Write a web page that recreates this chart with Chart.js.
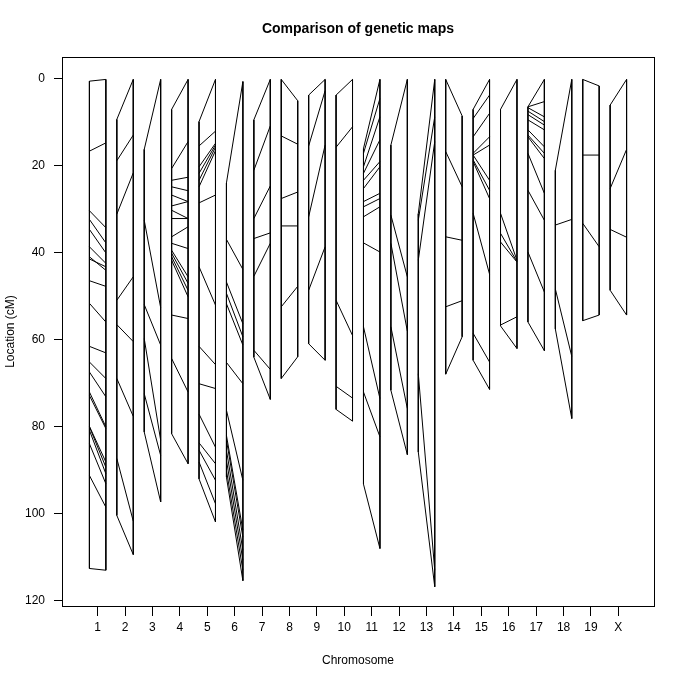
<!DOCTYPE html>
<html>
<head>
<meta charset="utf-8">
<title>Comparison of genetic maps</title>
<script src="https://cdn.jsdelivr.net/npm/chart.js@4"></script>
<style>
    body { margin: 0; background: #fff; }
    canvas { display: block; }
</style>
</head>
<body>
<canvas id="mapChart" width="686" height="682"></canvas>
<script>
    // Chromosome names, one column each on the x axis
    const chromosomes = ['1', '2', '3', '4', '5', '6', '7', '8', '9', '10',
        '11', '12', '13', '14', '15', '16', '17', '18', '19', 'X'];

    // Marker positions (cM) in the first map, one list per chromosome
    const map1Positions = [
        [0.5, 16.6, 30.3, 32.3, 34.6, 38.6, 40.9, 41.4, 46.4, 51.6, 61.5, 65.1, 67.4, 72.0, 72.8, 79.9, 80.0, 80.8, 83.9, 91.2, 112.6],
        [9.3, 18.8, 31.1, 50.9, 56.5, 68.9, 87.3, 100.4],
        [16.2, 32.5, 51.9, 59.7, 72.4, 81.2],
        [7.0, 20.6, 23.3, 24.8, 26.7, 29.2, 30.2, 32.1, 36.3, 37.8, 39.4, 40.1, 40.9, 41.7, 54.3, 64.3, 81.6],
        [9.8, 15.4, 20.2, 21.7, 23.3, 24.8, 28.5, 43.2, 61.5, 70.1, 77.1, 83.7, 85.4, 88.1, 92.0],
        [23.9, 36.9, 46.7, 49.3, 51.7, 65.2, 76.2, 82.0, 83.1, 85.4, 87.7, 90.0, 91.6],
        [9.4, 21.0, 32.1, 36.7, 45.4, 62.4, 64.0],
        [0.1, 13.1, 27.5, 33.8, 52.4, 68.9],
        [3.7, 15.4, 31.7, 48.6, 60.9],
        [3.7, 15.7, 50.9, 70.7, 76.0],
        [16.0, 17.1, 20.2, 21.7, 23.3, 25.2, 28.2, 29.4, 31.7, 37.7, 57.0, 72.0, 93.2],
        [15.2, 31.3, 37.8, 57.0, 71.6],
        [31.0, 32.5, 41.7, 67.8, 85.8],
        [0.1, 16.7, 36.3, 52.4, 67.9],
        [7.0, 9.1, 13.3, 17.1, 17.5, 17.5, 18.6, 19.0, 30.9, 58.5, 64.7],
        [7.0, 30.9, 35.5, 37.5, 56.6, 56.8],
        [6.4, 6.4, 6.6, 7.4, 8.2, 9.4, 11.7, 12.9, 13.3, 17.1, 25.6, 39.8, 55.9],
        [21.0, 33.6, 48.3, 57.5],
        [0.1, 17.5, 33.2, 55.6],
        [6.0, 25.2, 34.6, 48.6]
    ];

    // The same markers in the second map
    const map2Positions = [
        [0.1, 14.7, 34.2, 37.7, 40.0, 42.4, 44.0, 43.2, 47.7, 55.9, 63.0, 68.9, 73.1, 80.0, 80.4, 88.1, 89.3, 90.8, 93.1, 98.5, 113.0],
        [0.1, 12.9, 21.6, 45.5, 60.4, 77.6, 101.7, 109.4],
        [0.1, 52.6, 61.2, 83.1, 86.6, 97.3],
        [0.1, 14.4, 22.6, 25.7, 28.2, 28.2, 32.1, 32.1, 34.0, 39.0, 45.5, 47.0, 48.6, 50.1, 55.1, 72.0, 88.5],
        [0.1, 12.0, 14.8, 15.2, 15.7, 16.5, 26.7, 52.0, 65.7, 71.2, 84.7, 88.5, 92.3, 97.7, 101.9],
        [0.6, 43.8, 56.3, 59.3, 61.2, 70.1, 92.3, 103.8, 105.4, 108.4, 110.7, 113.0, 115.4],
        [0.1, 10.8, 24.6, 35.4, 37.8, 66.8, 73.7],
        [5.0, 15.0, 26.0, 33.8, 47.7, 63.9],
        [0.1, 2.7, 15.2, 38.6, 64.7],
        [0.1, 11.0, 59.0, 73.4, 78.7],
        [0.1, 4.5, 8.7, 14.0, 19.0, 20.2, 26.3, 27.5, 29.4, 39.8, 73.5, 82.3, 108.0],
        [0.1, 45.5, 58.0, 75.8, 86.4],
        [0.1, 8.7, 14.4, 113.0, 116.8],
        [8.5, 24.8, 37.1, 51.0, 59.3],
        [0.1, 3.7, 7.9, 13.3, 15.2, 23.3, 25.6, 27.5, 44.9, 65.1, 71.4],
        [0.1, 41.7, 42.0, 42.1, 54.7, 62.0],
        [0.1, 5.2, 8.7, 9.8, 10.6, 11.7, 15.6, 17.1, 18.3, 26.3, 32.5, 49.0, 62.5],
        [0.1, 32.3, 63.8, 78.1],
        [1.6, 17.5, 38.6, 54.3],
        [0.1, 16.2, 36.4, 54.3]
    ];

    const yTicks = [0, 20, 40, 60, 80, 100, 120];

    const HALF = 0.3; // offset of each map's bar from the chromosome position

    function gap() {
        return { x: null, y: null };
    }

    // Two vertical bars plus one connecting segment per marker
    function chromosomePoints(i) {
        const c = i + 1;
        const m1 = map1Positions[i];
        const m2 = map2Positions[i];
        const pts = [];
        pts.push({ x: c - HALF, y: Math.min(...m1) }, { x: c - HALF, y: Math.max(...m1) }, gap());
        pts.push({ x: c + HALF, y: Math.min(...m2) }, { x: c + HALF, y: Math.max(...m2) }, gap());
        m1.forEach((p, j) => {
            pts.push({ x: c - HALF, y: p }, { x: c + HALF, y: m2[j] }, gap());
        });
        return pts;
    }

    const datasets = chromosomes.map((name, i) => ({
        label: name,
        data: chromosomePoints(i),
        showLine: true,
        spanGaps: false,
        borderColor: '#000',
        borderWidth: 1,
        pointRadius: 0,
        pointHoverRadius: 0
    }));

    // Box around the plot and the main title, as R draws them
    const frame = {
        id: 'frame',
        afterDraw(chart) {
            const { ctx, chartArea: a } = chart;
            ctx.save();
            ctx.strokeStyle = '#000';
            ctx.lineWidth = 1;
            ctx.strokeRect(a.left + 0.5, a.top + 0.5, a.right - a.left, a.bottom - a.top);
            ctx.fillStyle = '#000';
            ctx.font = "bold 14px 'Liberation Sans', Arial, sans-serif";
            ctx.textAlign = 'center';
            ctx.textBaseline = 'middle';
            ctx.fillText('Comparison of genetic maps', (a.left + a.right) / 2, 29);
            ctx.restore();
        }
    };

    Chart.defaults.font.family = "'Liberation Sans', Arial, sans-serif";
    Chart.defaults.font.size = 12;
    Chart.defaults.color = '#000';

    const ctx = document.getElementById('mapChart').getContext('2d');
    new Chart(ctx, {
        type: 'scatter',
        data: { datasets: datasets },
        options: {
            responsive: false,
            animation: false,
            devicePixelRatio: 1,
            layout: { padding: { top: 57, right: 32, left: 0, bottom: 0 } },
            plugins: {
                legend: { display: false },
                tooltip: { enabled: false }
            },
            scales: {
                x: {
                    type: 'linear',
                    min: -0.3,
                    max: 21.3,
                    afterFit: (scale) => { scale.height = 76; },
                    afterBuildTicks: (scale) => {
                        scale.ticks = chromosomes.map((_, i) => ({ value: i + 1 }));
                    },
                    ticks: {
                        autoSkip: false,
                        maxRotation: 0,
                        padding: 4,
                        callback: (value) => chromosomes[value - 1]
                    },
                    grid: { drawOnChartArea: false, drawTicks: true, tickLength: 10, color: '#000' },
                    border: { display: false },
                    title: { display: true, text: 'Chromosome', padding: 14 }
                },
                y: {
                    type: 'linear',
                    reverse: true,
                    min: -5.06,
                    max: 121.23,
                    afterFit: (scale) => { scale.width = 62; },
                    afterBuildTicks: (scale) => {
                        scale.ticks = yTicks.map(v => ({ value: v }));
                    },
                    ticks: { padding: 9 },
                    grid: { drawOnChartArea: false, drawTicks: true, tickLength: 8, color: '#000' },
                    border: { display: false },
                    title: { display: true, text: 'Location (cM)', padding: 3 }
                }
            }
        },
        plugins: [frame]
    });
</script>
</body>
</html>
